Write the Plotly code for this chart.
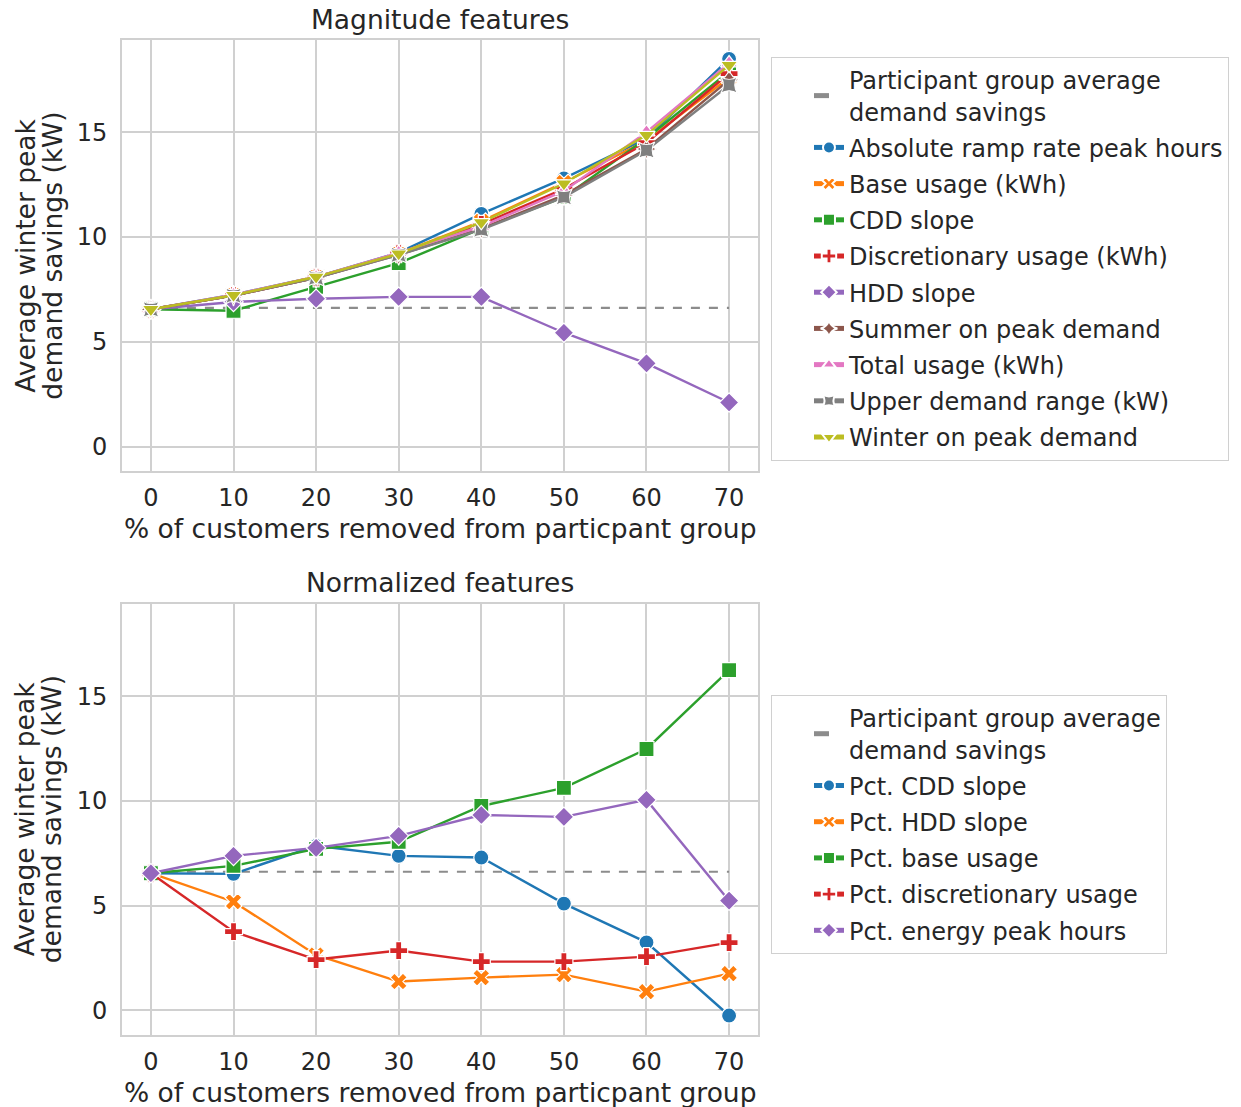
import plotly.graph_objects as go
from plotly.subplots import make_subplots

# ---------------- data ----------------
pct_removed = [0, 10, 20, 30, 40, 50, 60, 70]
avg_savings = 6.62

mag_names = ["Absolute ramp rate peak hours", "Base usage (kWh)", "CDD slope",
             "Discretionary usage (kWh)", "HDD slope", "Summer on peak demand",
             "Total usage (kWh)", "Upper demand range (kW)", "Winter on peak demand"]
abs_ramp = [6.55, 7.25, 8.10, 9.25, 11.10, 12.80, 14.70, 18.50]
base_usage = [6.55, 7.20, 8.10, 9.20, 10.75, 12.60, 14.60, 17.60]
cdd_slope = [6.55, 6.48, 7.62, 8.75, 10.40, 11.90, 14.70, 17.90]
discretionary = [6.55, 7.20, 8.05, 9.20, 10.60, 12.30, 14.50, 17.80]
hdd_slope = [6.55, 6.90, 7.05, 7.14, 7.14, 5.43, 3.97, 2.10]
summer_peak = [6.55, 7.20, 8.05, 9.15, 10.40, 12.00, 14.20, 17.50]
total_usage = [6.55, 7.25, 8.10, 9.25, 10.50, 12.20, 15.00, 18.30]
upper_demand = [6.55, 7.20, 8.05, 9.15, 10.35, 11.90, 14.14, 17.25]
winter_peak = [6.55, 7.22, 8.10, 9.20, 10.70, 12.55, 14.86, 18.20]

norm_names = ["Pct. CDD slope", "Pct. HDD slope", "Pct. base usage",
              "Pct. discretionary usage", "Pct. energy peak hours"]
pct_cdd = [6.55, 6.52, 7.86, 7.38, 7.30, 5.10, 3.25, -0.24]
pct_hdd = [6.55, 5.19, 2.65, 1.38, 1.57, 1.71, 0.90, 1.76]
pct_base = [6.55, 6.90, 7.71, 8.05, 9.76, 10.62, 12.48, 16.24]
pct_disc = [6.55, 3.76, 2.43, 2.86, 2.33, 2.33, 2.57, 3.24]
pct_energy = [6.55, 7.38, 7.76, 8.33, 9.33, 9.24, 10.05, 5.24]

x_ticks = [0, 10, 20, 30, 40, 50, 60, 70]
y_ticks = [0, 5, 10, 15]

# ---------------- style ----------------
colors = ["#1f77b4", "#ff7f0e", "#2ca02c", "#d62728", "#9467bd",
          "#8c564b", "#e377c2", "#7f7f7f", "#bcbd22"]
symbols = ["circle", "x", "square", "cross", "diamond",
           "star-diamond", "triangle-up", "star-square", "triangle-down"]
FONT = "DejaVu Sans"
TXT = "#262626"
GRID = "#d0d0d0"

fig = make_subplots(rows=2, cols=1, vertical_spacing=0.1336)
fig.update_layout(
    width=1241, height=1107,
    margin=dict(l=122, r=481, t=40, b=72),
    paper_bgcolor="white", plot_bgcolor="white",
    font=dict(family=FONT, color=TXT, size=24),
)
fig.update_yaxes(domain=[0.5668, 1.0], row=1, col=1)
fig.update_yaxes(domain=[0.0, 0.4332], row=2, col=1)

mag_series = [abs_ramp, base_usage, cdd_slope, discretionary, hdd_slope,
              summer_peak, total_usage, upper_demand, winter_peak]
norm_series = [pct_cdd, pct_hdd, pct_base, pct_disc, pct_energy]

for row, names, series, leg in [(1, mag_names, mag_series, "legend"),
                                (2, norm_names, norm_series, "legend2")]:
    fig.add_trace(go.Scatter(
        x=[pct_removed[0], pct_removed[-1]], y=[avg_savings, avg_savings],
        mode="lines", line=dict(color="#8c8c8c", width=2.2, dash="dash"),
        name="Participant group average<br>demand savings",
        legend=leg, legendgroup=f"{leg}_avg"), row=row, col=1)
    for i, (nm, ys) in enumerate(zip(names, series)):
        fig.add_trace(go.Scatter(
            x=pct_removed, y=ys, mode="lines+markers", name=nm,
            line=dict(color=colors[i], width=2.4),
            marker=dict(symbol=symbols[i], size=15, color=colors[i],
                        line=dict(color="white", width=1.2)),
            legend=leg, legendgroup=f"{leg}_{i}"), row=row, col=1)

axis_common = dict(showgrid=True, gridcolor=GRID, gridwidth=1.5,
                   showline=True, mirror=True, linecolor=GRID, linewidth=2,
                   zeroline=False, ticks="outside",
                   tickcolor="rgba(0,0,0,0)", tickfont=dict(size=24, family=FONT, color=TXT))
fig.update_xaxes(range=[-3.5, 73.5], tickvals=x_ticks, ticklen=4, **axis_common)
fig.update_yaxes(range=[-1.17, 19.4], tickvals=y_ticks, ticklen=8, **axis_common)

legend_common = dict(
    xanchor="left", yanchor="top", x=1.0204,
    bgcolor="white", bordercolor=GRID, borderwidth=1,
    font=dict(size=24, family=FONT, color=TXT),
    traceorder="grouped", tracegroupgap=2, itemsizing="constant",
    indentation=37,
)
fig.update_layout(
    legend=dict(y=0.983, **legend_common),
    legend2=dict(y=0.3417, **legend_common),
)

# titles and axis labels
ann = []
ann.append(dict(text="Magnitude features", x=0.5, y=1.0211, xref="paper", yref="paper",
                showarrow=False, xanchor="center", yanchor="middle", font=dict(size=26.5)))
ann.append(dict(text="Normalized features", x=0.5, y=0.4543, xref="paper", yref="paper",
                showarrow=False, xanchor="center", yanchor="middle", font=dict(size=26.5)))
for yc in [0.5095, -0.0573]:
    ann.append(dict(text="% of customers removed from particpant group", x=0.5, y=yc,
                    xref="paper", yref="paper", showarrow=False,
                    xanchor="center", yanchor="middle", font=dict(size=26.5)))
for yc in [0.7834, 0.2171]:
    ann.append(dict(text="Average winter peak", x=-0.152, y=yc, xref="paper", yref="paper",
                    showarrow=False, textangle=-90, xanchor="center", yanchor="middle",
                    font=dict(size=26.5)))
    ann.append(dict(text="demand savings (kW)", x=-0.1097, y=yc, xref="paper", yref="paper",
                    showarrow=False, textangle=-90, xanchor="center", yanchor="middle",
                    font=dict(size=26.5)))
fig.update_layout(annotations=ann)

fig.write_html("out.html")
